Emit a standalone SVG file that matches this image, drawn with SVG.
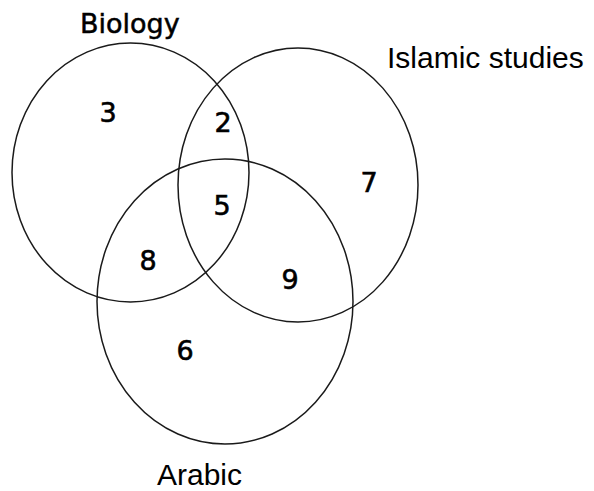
<svg xmlns="http://www.w3.org/2000/svg" width="594" height="491" viewBox="0 0 594 491">
<style>
.set{fill:none;stroke:#1a1a1a;stroke-width:1.5}
.num{font-family:"DejaVu Sans",sans-serif;font-size:27px;fill:#000;stroke:#000;stroke-width:0.6;text-anchor:middle}
.lbl{font-family:"Liberation Sans",Arial,sans-serif;font-size:30px;fill:#000}
.lbl2{font-family:"DejaVu Sans",sans-serif;font-size:27px;fill:#000;stroke:#000;stroke-width:0.5}
</style>
<rect width="594" height="491" fill="#fff"/>
<g id="sets">
<g id="biology"><ellipse class="set" cx="130.5" cy="172.5" rx="118.5" ry="129.5"/><text class="lbl2" x="80" y="33">Biology</text></g>
<g id="islamic"><ellipse class="set" cx="298" cy="185" rx="120" ry="137"/><text class="lbl" x="387" y="68">Islamic studies</text></g>
<g id="arabic"><ellipse class="set" cx="225" cy="301.5" rx="128" ry="142.5"/><text class="lbl" x="157" y="485">Arabic</text></g>
</g>
<g id="counts">
<text class="num" x="108" y="122">3</text>
<text class="num" x="223" y="132">2</text>
<text class="num" x="222" y="215">5</text>
<text class="num" x="148" y="270">8</text>
<text class="num" x="290" y="289">9</text>
<text class="num" x="369" y="192">7</text>
<text class="num" x="185" y="360">6</text>
</g>
</svg>
